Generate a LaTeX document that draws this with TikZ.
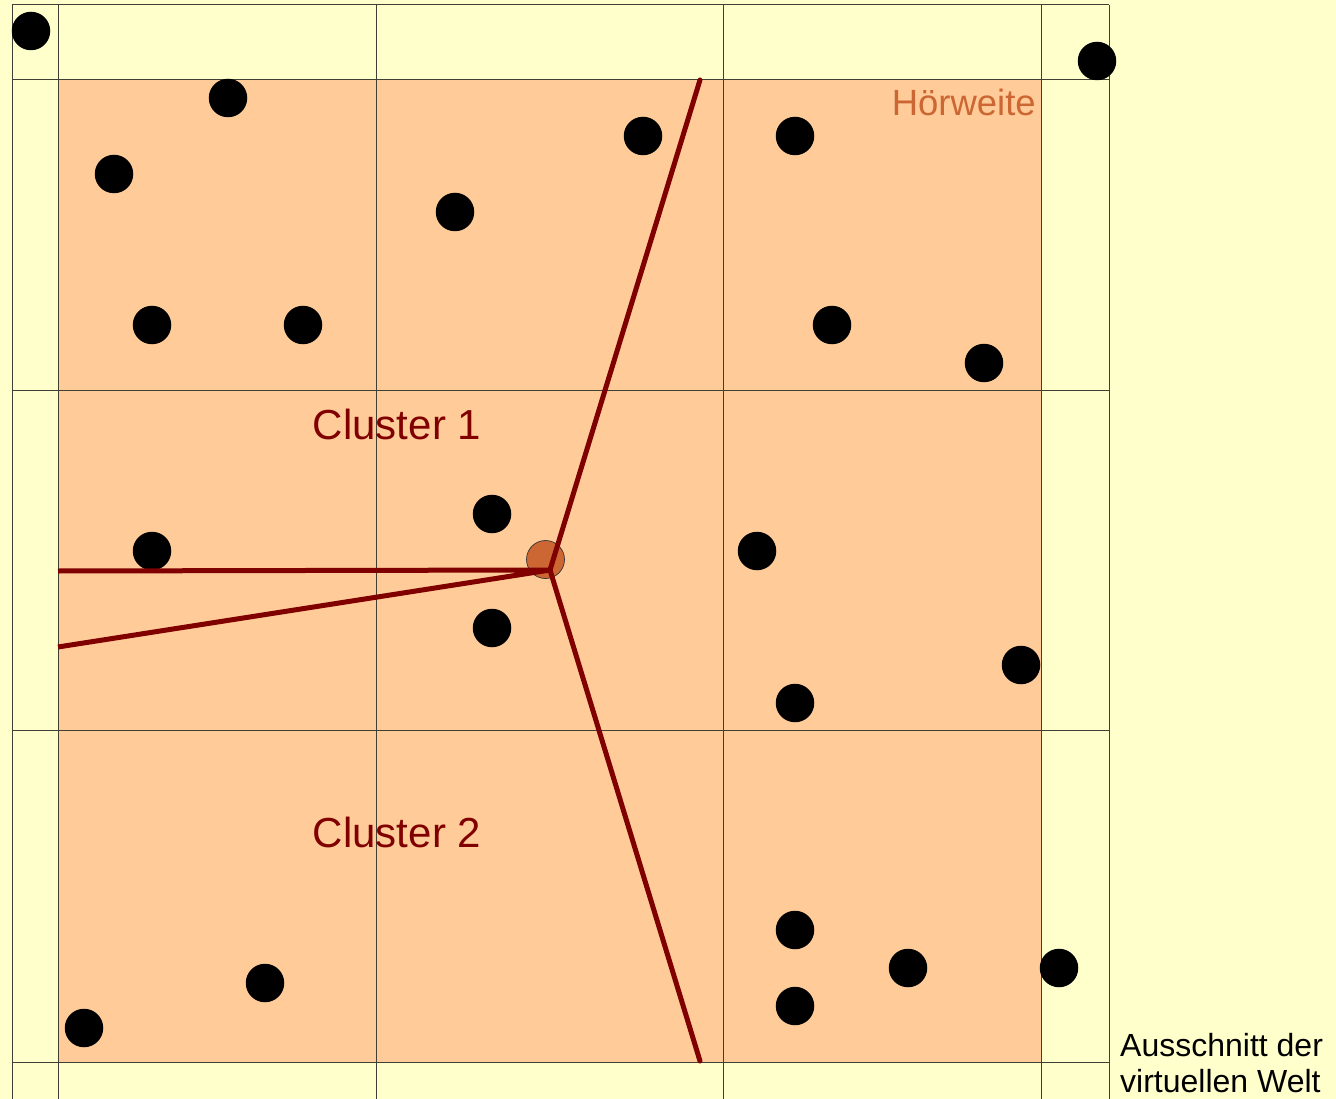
\documentclass[tikz,border=0pt]{standalone}
\usepackage{fontspec}
\setmainfont{Liberation Sans}
\definecolor{bgyellow}{HTML}{FFFFCC}
\definecolor{areaorange}{HTML}{FFCC99}
\definecolor{clusterred}{HTML}{800000}
\definecolor{hearorange}{HTML}{CC6633}
\definecolor{gridgray}{HTML}{3F3F33}
\begin{document}
\begin{tikzpicture}[x=1pt,y=-1pt,
  dot/.style={circle,fill=black,inner sep=0pt,minimum size=38.5pt},
  gridline/.style={draw=gridgray,line width=1pt},
  border/.style={draw=clusterred,line width=5pt,line cap=round,line join=round},
  clusterlabel/.style={text=clusterred,font=\fontsize{42}{46}\selectfont},
  ]
\useasboundingbox (0,0) rectangle (1336,1099);
\fill[bgyellow] (0,0) rectangle (1336,1099);
\fill[areaorange] (58,80) rectangle (1041,1062);
% grid
\foreach \gx in {12,58,376,723,1041,1109} \draw[gridline] (\gx,5) -- (\gx,1099);
\foreach \gy in {5,80,390,730,1062} \draw[gridline] (12,\gy) -- (1109,\gy);
% label
\node[anchor=east,text=hearorange,font=\fontsize{36.5}{40}\selectfont,inner sep=0pt] (hw) at (1036,102) {Hörweite};
\node[clusterlabel,inner sep=0pt] (c1) at (397,424) {Cluster 1};
\node[clusterlabel,inner sep=0pt] (c2) at (397,832) {Cluster 2};
\node[anchor=north west,align=left,font=\fontsize{32}{36}\selectfont,inner sep=0pt] (aus) at (1120,1033) {Ausschnitt der\\virtuellen Welt};
% dots
\node[dot] (d1) at (31,31) {};
\node[dot] (d2) at (1097,61) {};
\node[dot] (d3) at (228,98) {};
\node[dot] (d4) at (114,174) {};
\node[dot] (d5) at (643,136) {};
\node[dot] (d6) at (795,136) {};
\node[dot] (d7) at (455,212) {};
\node[dot] (d8) at (152,325) {};
\node[dot] (d9) at (303,325) {};
\node[dot] (d10) at (832,325) {};
\node[dot] (d11) at (984,363) {};
\node[dot] (d12) at (492,514) {};
\node[dot] (d13) at (152,551) {};
\node[dot] (d14) at (757,551) {};
\node[dot] (d15) at (492,628) {};
\node[dot] (d16) at (1021,665) {};
\node[dot] (d17) at (795,703) {};
\node[dot] (d18) at (795,930) {};
\node[dot] (d19) at (908,968) {};
\node[dot] (d20) at (1059,968) {};
\node[dot] (d21) at (265,983) {};
\node[dot] (d22) at (795,1006) {};
\node[dot] (d23) at (84,1028) {};
% centre node
\node[circle,fill=hearorange,draw=black!80,line width=0.7pt,inner sep=0pt,minimum size=38pt] (ctr) at (545.5,559.5) {};
% cluster borders
\coordinate (hub) at (550,570);
\coordinate (top) at (700,80);
\coordinate (bot) at (700,1061);
\coordinate (lefta) at (58,571);
\coordinate (leftb) at (58,647);
\draw[border] (hub) -- (top);
\draw[border] (hub) -- (bot);
\draw[border,line cap=butt] (lefta) -- (hub) -- (leftb);
\end{tikzpicture}
\end{document}
